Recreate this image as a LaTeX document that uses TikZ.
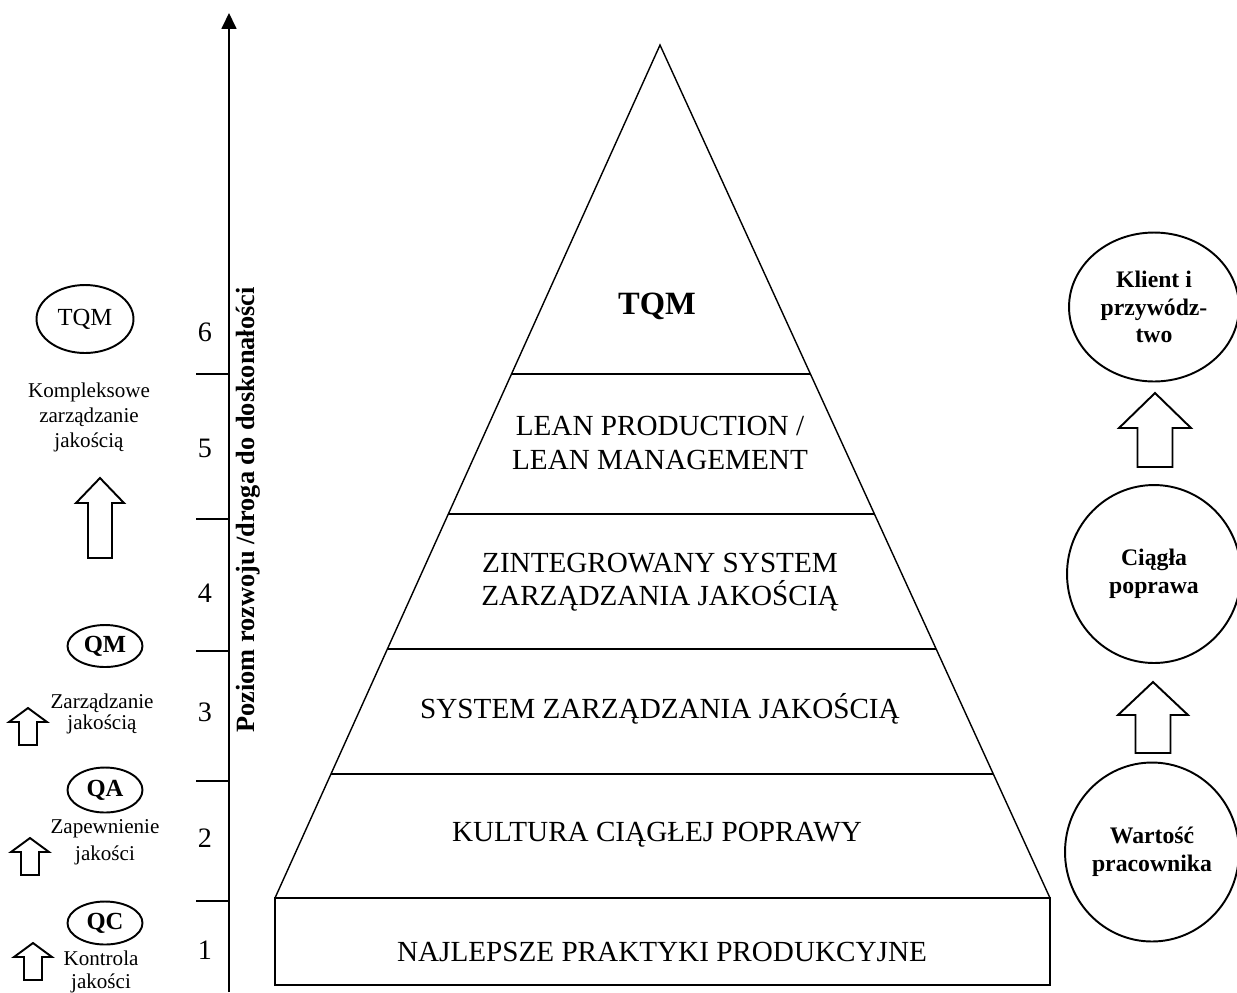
\documentclass[tikz,border=0pt]{standalone}
\usepackage{fontspec}
\setmainfont{Liberation Serif}
\usetikzlibrary{shapes.geometric, arrows.meta, calc}
\tikzset{
  nivel/.style={align=center, font=\fontsize{16.6}{19}\selectfont},
  elipse/.style={ellipse, draw, line width=1.1pt, inner sep=0pt},
  circulo/.style={ellipse, draw, line width=1.1pt, inner sep=0pt, align=center,
    font=\bfseries\fontsize{13.5}{16}\selectfont},
  etiqueta/.style={align=center, font=\fontsize{12}{14}\selectfont},
  numero/.style={font=\fontsize{16}{18}\selectfont},
  linea/.style={line width=0.8pt},
  pics/flechaup/.style n args={4}{code={
    \draw[line width=1.1pt] (0,0) -- (-#1/2,#2) -- (-#3/2,#2) -- (-#3/2,#4)
      -- (#3/2,#4) -- (#3/2,#2) -- (#1/2,#2) -- cycle;
  }}
}
\begin{document}
\begin{tikzpicture}[x=0.02cm, y=-0.02cm]
  \useasboundingbox (0,0) rectangle (1237,992);
  % eje de niveles
  \coordinate (base) at (229,992);
  \coordinate (tope) at (229,13);
  \draw[linea, -{Triangle[length=9pt, width=8.5pt]}] (base) -- (tope);
  \foreach \y in {374,519,651,781,901}
    \draw[linea] (196,\y) -- (229,\y);
  \foreach \n/\y in {6/332,5/448,4/593,3/712,2/838,1/950}
    \node[numero] (n\n) at (205,\y) {\n};
  \node[rotate=90, font=\bfseries\fontsize{15}{18}\selectfont] (eje) at (248,510)
    {Poziom rozwoju /droga do doskonałości};
  % piramide
  \coordinate (apex) at (660,45);
  \coordinate (bi) at (275,898);
  \coordinate (bd) at (1050,898);
  \draw[linea] (bi) -- (apex) -- (bd);
  \draw[line width=1.4pt] (bi) rectangle (1050,985);
  \foreach \y [evaluate=\y as \t using (\y-45)/853] in {374,514,649,774}
    \draw[linea] ($(apex)!\t!(bi)$) -- ($(apex)!\t!(bd)$);
  \node[nivel, font=\bfseries\fontsize{18.5}{21}\selectfont] (tqm) at (657,306) {TQM};
  \node[nivel] (lean) at (660,443) {LEAN PRODUCTION /\\LEAN MANAGEMENT};
  \node[nivel] (zsz) at (660,582) {ZINTEGROWANY SYSTEM\\ZARZĄDZANIA JAKOŚCIĄ};
  \node[nivel] (szj) at (660,709) {SYSTEM ZARZĄDZANIA JAKOŚCIĄ};
  \node[nivel] (kcp) at (657,835) {KULTURA CIĄGŁEJ POPRAWY};
  \node[nivel] (npp) at (662,952) {NAJLEPSZE PRAKTYKI PRODUKCYJNE};
  % lado izquierdo
  \node[elipse, minimum width=1.94cm, minimum height=1.36cm,
    font=\fontsize{14}{15}\selectfont] (tqmL) at (85,319) {TQM};
  \node[etiqueta, font=\fontsize{12}{14.2}\selectfont] (kzj) at (89,417)
    {Kompleksowe\\zarządzanie\\jakością};
  \pic at (100,478) {flechaup={48}{25}{24}{80}};
  \node[elipse, minimum width=1.5cm, minimum height=0.84cm,
    font=\bfseries\fontsize{14}{16}\selectfont] (qm) at (105,646) {QM};
  \node[etiqueta, font=\fontsize{12}{11.5}\selectfont] (zj) at (102,714)
    {Zarządzanie\\jakością};
  \pic at (28,708) {flechaup={38}{14}{18}{37}};
  \node[elipse, minimum width=1.5cm, minimum height=0.9cm,
    font=\bfseries\fontsize{14}{16}\selectfont] (qa) at (105,790) {QA};
  \node[etiqueta, font=\fontsize{12}{15.5}\selectfont] (zpj) at (105,842)
    {Zapewnienie\\jakości};
  \pic at (30,838) {flechaup={38}{14}{18}{37}};
  \node[elipse, minimum width=1.5cm, minimum height=0.86cm,
    font=\bfseries\fontsize{14}{16}\selectfont] (qc) at (105,923) {QC};
  \node[etiqueta, font=\fontsize{12}{13}\selectfont] (kj) at (101,972)
    {Kontrola\\jakości};
  \pic at (33,943) {flechaup={38}{14}{18}{37}};
  % lado derecho
  \node[circulo, minimum width=3.4cm, minimum height=2.98cm,
    font=\bfseries\fontsize{13.5}{15.5}\selectfont] (klient) at (1154,307)
    {Klient i\\przywódz-\\two};
  \pic at (1155,393) {flechaup={72}{35}{35}{74}};
  \node[circulo, minimum width=3.48cm, minimum height=3.56cm] (ciagla) at (1154,574)
    {Ciągła\\poprawa};
  \pic at (1153,682) {flechaup={70}{33}{35}{71}};
  \node[circulo, minimum width=3.48cm, minimum height=3.58cm] (wartosc) at (1152,852)
    {Wartość\\pracownika};
\end{tikzpicture}
\end{document}
